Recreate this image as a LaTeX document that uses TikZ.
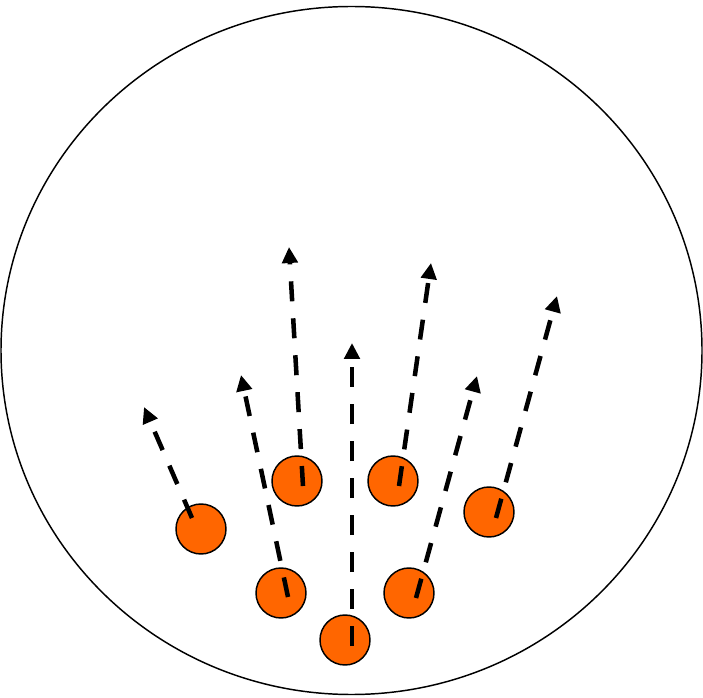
\documentclass[tikz,border=0pt]{standalone}
\usetikzlibrary{arrows.meta}
\definecolor{dotorange}{HTML}{FF6600}

\tikzset{
  particle/.style={circle, draw=black, line width=1.1pt, fill=dotorange, minimum size=37.5pt, inner sep=0pt},
  path arrow/.style={line width=3.4pt, dash pattern=on 15pt off 12.75pt, -{Triangle[length=12pt, width=11.5pt]}}
}

\begin{document}
\begin{tikzpicture}[x=0.75pt, y=-0.75pt]
\useasboundingbox (0,0) rectangle (703,698);

% Container
\draw[line width=1.1pt] (351.5,350.5) ellipse (350.5 and 344);

% Particles
\node[particle] (p1) at (201,529) {};
\node[particle] (p2) at (297,481) {};
\node[particle] (p3) at (393,481) {};
\node[particle] (p4) at (489,512) {};
\node[particle] (p5) at (281,593) {};
\node[particle] (p6) at (409,593) {};
\node[particle] (p7) at (345,640) {};

% Tails and heads of the paths
\coordinate (t1) at (192,518);  \coordinate (h1) at (144,407);
\coordinate (t2) at (303,486);  \coordinate (h2) at (289,247);
\coordinate (t3) at (399,486);  \coordinate (h3) at (431,263);
\coordinate (t4) at (496,518);  \coordinate (h4) at (557,296);
\coordinate (t5) at (288,597);  \coordinate (h5) at (241,375);
\coordinate (t6) at (416,598);  \coordinate (h6) at (477,376);
\coordinate (t7) at (352,646);  \coordinate (h7) at (352,343);

% Paths
\foreach \i in {1,...,7} {
  \draw[path arrow] (t\i) -- (h\i);
}

\end{tikzpicture}
\end{document}
